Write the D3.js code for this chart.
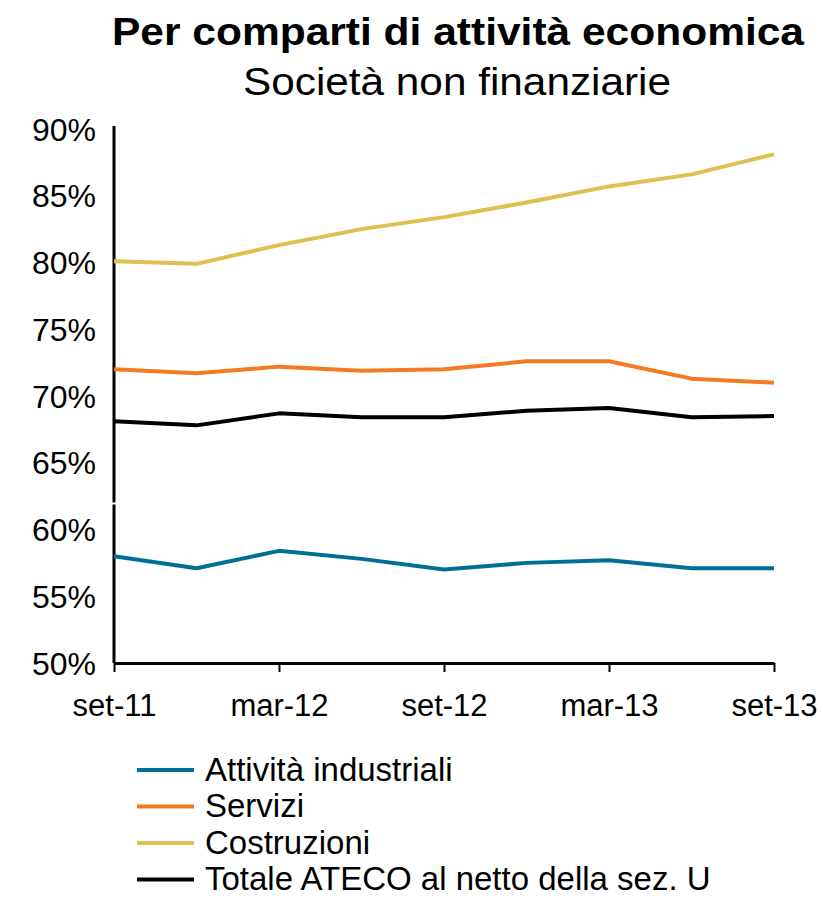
<!DOCTYPE html>
<html>
<head>
<meta charset="utf-8">
<script src="https://cdn.jsdelivr.net/npm/d3@7"></script>
<style>
  body { margin: 0; background: #fff; }
  svg text { font-family: "Liberation Sans", Arial, sans-serif; fill: #000; }
</style>
</head>
<body>
<div id="chart-area"></div>
<script>
(function () {
  // Data (quarterly, set-11 .. set-13)
  const periods = ["set-11", "dic-11", "mar-12", "giu-12", "set-12", "dic-12", "mar-13", "giu-13", "set-13"];
  const tickLabels = ["set-11", "mar-12", "set-12", "mar-13", "set-13"];
  const yTicks = [50, 55, 60, 65, 70, 75, 80, 85, 90];

  const industriali = [58.0, 57.1, 58.4, 57.8, 57.0, 57.5, 57.7, 57.1, 57.1];
  const servizi = [72.0, 71.7, 72.2, 71.9, 72.0, 72.6, 72.6, 71.3, 71.0];
  const costruzioni = [80.1, 79.9, 81.3, 82.5, 83.4, 84.5, 85.7, 86.6, 88.1];
  const totale = [68.1, 67.8, 68.7, 68.4, 68.4, 68.9, 69.1, 68.4, 68.5];

  const seriesNames = ["Attività industriali", "Servizi", "Costruzioni", "Totale ATECO al netto della sez. U"];
  const seriesValues = [industriali, servizi, costruzioni, totale];
  const seriesColors = ["#006f96", "#f47920", "#dfbf4f", "#000000"];

  const width = 823;
  const height = 898;

  const svg = d3
    .select("#chart-area")
    .append("svg")
    .attr("width", width)
    .attr("height", height);

  // Scales
  const x = d3.scalePoint().domain(periods).range([114, 774]);
  const y = d3.scaleLinear().domain([50, 90]).range([663, 129]);

  // Title
  svg.append("text")
    .attr("x", 458).attr("y", 45)
    .attr("text-anchor", "middle")
    .attr("textLength", 692).attr("lengthAdjust", "spacingAndGlyphs")
    .style("font-size", "39px").style("font-weight", "bold")
    .text("Per comparti di attività economica");
  svg.append("text")
    .attr("x", 457).attr("y", 95)
    .attr("text-anchor", "middle")
    .attr("textLength", 428).attr("lengthAdjust", "spacingAndGlyphs")
    .style("font-size", "38px")
    .text("Società non finanziarie");

  // Y axis
  const yAxis = svg.append("g")
    .attr("transform", "translate(114,0)")
    .call(d3.axisLeft(y).tickValues(yTicks).tickSize(0).tickPadding(18).tickFormat(d => d + "%"));
  yAxis.select(".domain").attr("stroke", "#000").attr("stroke-width", 3).attr("d", "M0,126V663");
  yAxis.selectAll("text")
    .style("font-size", "32px")
    .attr("dy", "0.35em");

  // small break in the axis
  svg.append("rect")
    .attr("x", 110).attr("y", y(61.95) - 1)
    .attr("width", 8).attr("height", 2)
    .attr("fill", "#fff");

  // X axis
  const xAxis = svg.append("g")
    .attr("transform", "translate(0,663)")
    .call(d3.axisBottom(x).tickValues(tickLabels).tickSize(9).tickPadding(22).tickSizeOuter(0));
  xAxis.select(".domain").attr("stroke", "#000").attr("stroke-width", 3);
  xAxis.selectAll(".tick line").attr("stroke", "#000").attr("stroke-width", 2);
  xAxis.selectAll("text").style("font-size", "31px");

  // Lines
  const line = d3.line()
    .x((d, i) => x(periods[i]))
    .y(d => y(d));

  // draw order: costruzioni, servizi, totale, industriali
  [2, 1, 3, 0].forEach(k => {
    svg.append("path")
      .datum(seriesValues[k])
      .attr("fill", "none")
      .attr("stroke", seriesColors[k])
      .attr("stroke-width", 4)
      .attr("stroke-linejoin", "round")
      .attr("d", line);
  });

  // Legend
  const legend = svg.append("g").attr("transform", "translate(137,770)");
  seriesNames.forEach((name, i) => {
    const row = legend.append("g").attr("transform", `translate(0,${i * 36.5})`);
    row.append("line")
      .attr("x1", 0).attr("x2", 57)
      .attr("y1", 0).attr("y2", 0)
      .attr("stroke", seriesColors[i])
      .attr("stroke-width", 4);
    row.append("text")
      .attr("x", 68).attr("y", 0)
      .attr("dy", "0.33em")
      .style("font-size", "33px")
      .text(name);
  });
})();
</script>
</body>
</html>
